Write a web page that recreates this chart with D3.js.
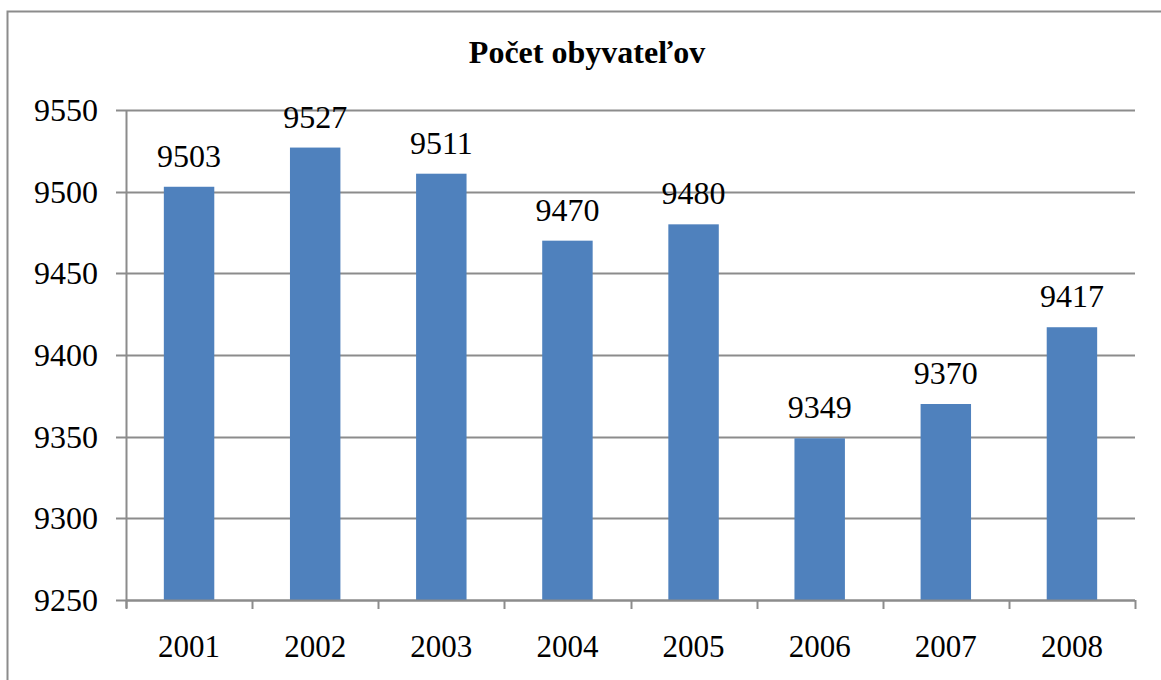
<!DOCTYPE html>
<html>
<head>
<meta charset="utf-8">
<script src="https://cdn.jsdelivr.net/npm/d3@7"></script>
<style>
  body { margin: 0; background: #fff; }
</style>
</head>
<body>
<svg id="chart" width="1161" height="680"></svg>
<script>
  // data
  const years = ["2001", "2002", "2003", "2004", "2005", "2006", "2007", "2008"];
  const population = [9503, 9527, 9511, 9470, 9480, 9349, 9370, 9417];
  const yTicks = [9250, 9300, 9350, 9400, 9450, 9500, 9550];
  const title = "Počet obyvateľov";

  const serif = "'Liberation Serif', 'Times New Roman', Times, serif";

  const svg = d3.select("#chart");
  const width = 1161, height = 680;
  const margin = { top: 110, right: 26, bottom: 80, left: 126 };

  // outer frame (right and bottom sides run off the picture)
  svg.append("rect")
    .attr("x", 7.5).attr("y", 11.5)
    .attr("width", width + 20).attr("height", height + 20)
    .attr("fill", "none")
    .attr("stroke", "#8c8c8c")
    .attr("stroke-width", 2);

  const x = d3.scaleBand()
    .domain(years)
    .range([margin.left, width - margin.right])
    .paddingInner(0.6)
    .paddingOuter(0.3);

  const y = d3.scaleLinear()
    .domain([9250, 9550])
    .range([height - margin.bottom, margin.top]);

  // gridlines
  svg.append("g")
    .selectAll("line")
    .data(yTicks)
    .join("line")
    .attr("x1", margin.left - 10)
    .attr("x2", width - margin.right)
    .attr("y1", d => Math.round(y(d)) + 0.5)
    .attr("y2", d => Math.round(y(d)) + 0.5)
    .attr("stroke", "#8c8c8c")
    .attr("stroke-width", 2);

  // y labels
  svg.append("g")
    .selectAll("text")
    .data(yTicks)
    .join("text")
    .attr("x", margin.left - 28)
    .attr("y", d => y(d))
    .attr("dy", "0.34em")
    .attr("text-anchor", "end")
    .attr("font-family", serif)
    .attr("font-size", 32)
    .text(d => d);

  // bars
  svg.append("g")
    .selectAll("rect")
    .data(population)
    .join("rect")
    .attr("x", (d, i) => x(years[i]))
    .attr("y", d => y(d))
    .attr("width", x.bandwidth())
    .attr("height", d => y(9250) - y(d))
    .attr("fill", "#4f81bd");

  // value labels
  svg.append("g")
    .selectAll("text")
    .data(population)
    .join("text")
    .attr("x", (d, i) => x(years[i]) + x.bandwidth() / 2)
    .attr("y", d => y(d) - 20)
    .attr("text-anchor", "middle")
    .attr("font-family", serif)
    .attr("font-size", 32)
    .text(d => d);

  // axes lines
  const x0 = margin.left, x1 = width - margin.right, yb = height - margin.bottom;
  svg.append("line")
    .attr("x1", x0 + 0.5).attr("x2", x0 + 0.5)
    .attr("y1", margin.top).attr("y2", yb + 8)
    .attr("stroke", "#8c8c8c").attr("stroke-width", 2);

  svg.append("line")
    .attr("x1", x0).attr("x2", x1)
    .attr("y1", yb + 0.5).attr("y2", yb + 0.5)
    .attr("stroke", "#8c8c8c").attr("stroke-width", 2);

  // category ticks
  const step = (x1 - x0) / years.length;
  svg.append("g")
    .selectAll("line")
    .data(d3.range(years.length + 1))
    .join("line")
    .attr("x1", i => Math.round(x0 + i * step) + 0.5)
    .attr("x2", i => Math.round(x0 + i * step) + 0.5)
    .attr("y1", yb)
    .attr("y2", yb + 9)
    .attr("stroke", "#8c8c8c").attr("stroke-width", 2);

  // year labels
  svg.append("g")
    .selectAll("text")
    .data(years)
    .join("text")
    .attr("x", d => x(d) + x.bandwidth() / 2)
    .attr("y", 657)
    .attr("text-anchor", "middle")
    .attr("font-family", serif)
    .attr("font-size", 31)
    .text(d => d);

  // title
  svg.append("text")
    .attr("x", 587)
    .attr("y", 63)
    .attr("text-anchor", "middle")
    .attr("font-family", serif)
    .attr("font-size", 32)
    .attr("font-weight", "bold")
    .text(title);
</script>
</body>
</html>
